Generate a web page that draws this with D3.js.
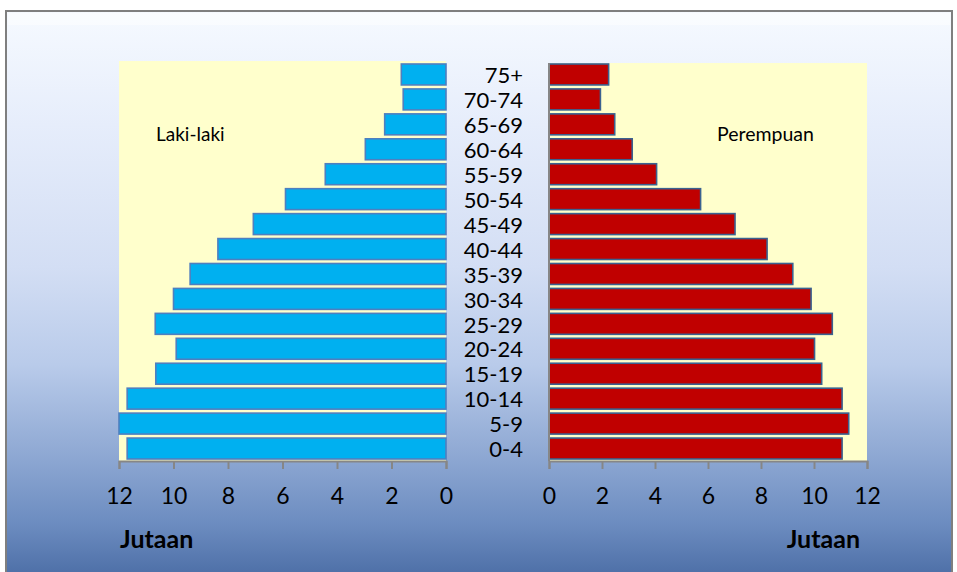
<!DOCTYPE html>
<html>
<head>
<meta charset="utf-8">
<script src="https://cdnjs.cloudflare.com/ajax/libs/d3/7.8.5/d3.min.js"></script>
<style>
  body { margin: 0; background: #fff; }
  svg { display: block; font-family: Lato, "Noto Sans", sans-serif; }
</style>
</head>
<body>
<svg class="chart"></svg>
<script>
// age groups, bottom to top
var ageGroups = ["0-4", "5-9", "10-14", "15-19", "20-24", "25-29", "30-34", "35-39",
                 "40-44", "45-49", "50-54", "55-59", "60-64", "65-69", "70-74", "75+"];
// population in millions (jutaan)
var male   = [11.7, 12.0, 11.7, 10.65, 9.9, 10.67, 10.0, 9.39, 8.37, 7.07, 5.89, 4.43, 2.96, 2.25, 1.57, 1.64];
var female = [11.06, 11.31, 11.06, 10.29, 10.02, 10.69, 9.89, 9.2, 8.23, 7.02, 5.72, 4.06, 3.14, 2.48, 1.94, 2.25];
var tickValues = [0, 2, 4, 6, 8, 10, 12];

var width = 957,
    height = 572,
    plotTop = 62,
    plotBottom = 461;

var chart = d3.select(".chart")
    .attr("width", width)
    .attr("height", height);

// background gradient
var defs = chart.append("defs");
var grad = defs.append("linearGradient")
    .attr("id", "bg")
    .attr("x1", 0).attr("y1", 0).attr("x2", 0).attr("y2", 1);
[["0%", "#f6faff"], ["20%", "#e6edfb"], ["45%", "#d3def4"], ["62%", "#b9cbea"],
 ["78%", "#8ea8d3"], ["90%", "#6c8cc0"], ["100%", "#4a6ca4"]].forEach(function(s) {
  grad.append("stop").attr("offset", s[0]).attr("stop-color", s[1]);
});

chart.append("rect")
    .attr("x", 6).attr("y", 11)
    .attr("width", 946).attr("height", 570)
    .attr("fill", "url(#bg)")
    .attr("stroke", "#7f7f7f")
    .attr("stroke-width", 2);
// bevel highlight
chart.append("rect")
    .attr("x", 8).attr("y", 13)
    .attr("width", 942).attr("height", 12)
    .attr("fill", "#ffffff").attr("opacity", 0.45);

var y = d3.scaleBand()
    .domain(ageGroups)
    .range([plotBottom, plotTop])
    .paddingInner(0.16)
    .paddingOuter(0.08);

var xL = d3.scaleLinear().domain([0, 12]).range([446, 119]);
var xR = d3.scaleLinear().domain([0, 12]).range([549, 867]);

// plot areas
chart.append("rect")
    .attr("x", xL(12)).attr("y", plotTop - 1)
    .attr("width", xL(0) - xL(12)).attr("height", plotBottom - plotTop + 1)
    .attr("fill", "#ffffcc");
chart.append("rect")
    .attr("x", xR(0)).attr("y", plotTop + 1)
    .attr("width", xR(12) - xR(0)).attr("height", plotBottom - plotTop - 1)
    .attr("fill", "#ffffcc");

// bars
chart.append("g").selectAll("rect")
    .data(male)
  .enter().append("rect")
    .attr("x", function(d) { return xL(d); })
    .attr("y", function(d, i) { return y(ageGroups[i]); })
    .attr("width", function(d) { return xL(0) - xL(d); })
    .attr("height", y.bandwidth())
    .attr("fill", "#00b0f0")
    .attr("stroke", "#4f7fbf")
    .attr("stroke-width", 1.6);

chart.append("g").selectAll("rect")
    .data(female)
  .enter().append("rect")
    .attr("x", xR(0))
    .attr("y", function(d, i) { return y(ageGroups[i]); })
    .attr("width", function(d) { return xR(d) - xR(0); })
    .attr("height", y.bandwidth())
    .attr("fill", "#c00000")
    .attr("stroke", "#3a6290")
    .attr("stroke-width", 1.6);

// axes
var axisL = chart.append("g")
    .attr("transform", "translate(0," + plotBottom + ")")
    .call(d3.axisBottom(xL).tickValues(tickValues).tickSize(8).tickPadding(19));
var axisR = chart.append("g")
    .attr("transform", "translate(0," + plotBottom + ")")
    .call(d3.axisBottom(xR).tickValues(tickValues).tickSize(8).tickPadding(19));

[axisL, axisR].forEach(function(a) {
  a.select(".domain").attr("stroke", "#868686").attr("stroke-width", 2);
  a.selectAll(".tick line").attr("stroke", "#868686").attr("stroke-width", 2);
  a.selectAll(".tick text")
      .attr("fill", "#000")
      .style("font-family", "Lato, sans-serif")
      .style("font-size", "23px");
});

// right vertical axis line
chart.append("line")
    .attr("x1", xR(0)).attr("x2", xR(0))
    .attr("y1", plotTop + 1).attr("y2", plotBottom)
    .attr("stroke", "#868686")
    .attr("stroke-width", 2);

// age labels in the middle
chart.append("g").selectAll("text")
    .data(ageGroups)
  .enter().append("text")
    .attr("x", 523)
    .attr("y", function(d) { return y(d) + y.bandwidth() / 2 + 1; })
    .attr("dy", ".35em")
    .attr("text-anchor", "end")
    .style("font-size", "22px")
    .text(function(d) { return d; });

// series labels
chart.append("text")
    .attr("x", 156).attr("y", 134).attr("dy", ".35em")
    .style("font-size", "19px")
    .text("Laki-laki");
chart.append("text")
    .attr("x", 717).attr("y", 134).attr("dy", ".35em")
    .style("font-size", "19.5px")
    .text("Perempuan");

// unit labels
chart.append("text")
    .attr("x", 120).attr("y", 539).attr("dy", ".35em")
    .style("font-size", "25px").style("font-weight", "bold")
    .text("Jutaan");
chart.append("text")
    .attr("x", 860).attr("y", 539).attr("dy", ".35em")
    .attr("text-anchor", "end")
    .style("font-size", "25px").style("font-weight", "bold")
    .text("Jutaan");
</script>
</body>
</html>
